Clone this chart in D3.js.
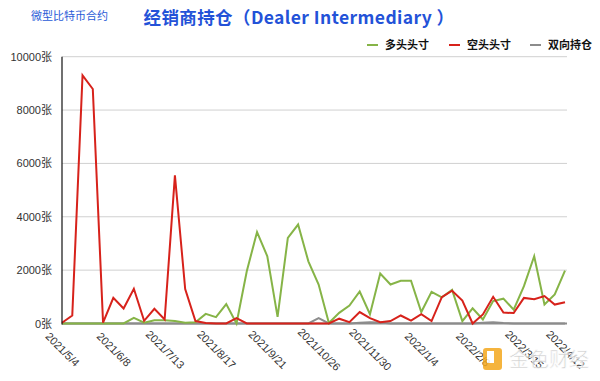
<!DOCTYPE html>
<html><head><meta charset="utf-8">
<script src="https://cdn.jsdelivr.net/npm/d3@7"></script>
<style>
html,body{margin:0;padding:0;background:#fff;}
svg{display:block;font-family:"Liberation Sans","Noto Sans CJK SC",sans-serif;}
</style></head>
<body><svg id="c" width="600" height="381"></svg>
<script>
const dates = ["2021/5/4","2021/5/11","2021/5/18","2021/5/25","2021/6/1","2021/6/8","2021/6/15","2021/6/22","2021/6/29","2021/7/6",
"2021/7/13","2021/7/20","2021/7/27","2021/8/3","2021/8/10","2021/8/17","2021/8/24","2021/8/31","2021/9/7","2021/9/14",
"2021/9/21","2021/9/28","2021/10/5","2021/10/12","2021/10/19","2021/10/26","2021/11/2","2021/11/9","2021/11/16","2021/11/23",
"2021/11/30","2021/12/7","2021/12/14","2021/12/21","2021/12/28","2022/1/4","2022/1/11","2022/1/18","2022/1/25","2022/2/1",
"2022/2/8","2022/2/15","2022/2/22","2022/3/1","2022/3/8","2022/3/15","2022/3/22","2022/3/29","2022/4/5","2022/4/12"];
const longPos = [0,0,0,0,0,0,0,210,30,125,125,90,30,50,360,240,730,0,1960,3430,2520,250,3210,3710,2330,1460,20,400,670,1200,350,1870,1460,1600,1600,430,1190,980,1260,90,570,150,840,930,520,1400,2520,710,1090,1980];
const shortPos = [30,300,9300,8790,30,960,560,1300,100,550,150,5550,1290,90,20,0,0,200,0,0,0,0,0,0,0,0,0,180,50,430,200,50,90,300,110,350,90,990,1230,860,0,340,1000,410,390,960,910,1030,710,800];
const spreadPos = [0,0,0,0,0,0,0,0,0,0,0,0,0,0,0,0,0,0,0,0,0,0,0,0,0,200,0,0,0,30,50,40,0,0,0,0,0,0,0,0,0,30,50,20,0,0,0,0,0,0];
const tickLabels = ["2021/5/4","2021/6/8","2021/7/13","2021/8/17","2021/9/21","2021/10/26","2021/11/30","2022/1/4","2022/2/8","2022/3/15","2022/4/12"];
const yTicks = [0,2000,4000,6000,8000,10000];
const seriesNames = ["多头头寸","空头头寸","双向持仓"];
const colors = ["#86b447","#d7221b","#8c8c8c"];

const svg = d3.select("#c");
const x = d3.scalePoint().domain(dates).range([62,565]);
const y = d3.scaleLinear().domain([0,10000]).range([323.5,56.7]);

// gridlines
svg.append("g").selectAll("line").data(yTicks.filter(d=>d>0)).join("line")
  .attr("x1",62).attr("x2",567).attr("y1",d=>y(d)).attr("y2",d=>y(d))
  .attr("stroke","#d0d0d0").attr("stroke-width",1);

// y axis labels
const yAxis = d3.axisLeft(y).tickValues(yTicks).tickFormat(d=>d+"张").tickSize(0).tickPadding(10);
const gy = svg.append("g").attr("transform","translate(62,0)").call(yAxis);
gy.select(".domain").remove();
gy.selectAll("text").attr("font-size",11).attr("fill","#333")
  .attr("font-family","'Liberation Sans','Noto Sans CJK SC',sans-serif");

// x axis baseline
svg.append("line").attr("x1",62).attr("x2",567).attr("y1",y(0)).attr("y2",y(0))
  .attr("stroke","#8c8c8c").attr("stroke-width",2);

// x labels
const xAxis = d3.axisBottom(x).tickValues(tickLabels).tickSize(0);
const gx = svg.append("g").attr("transform","translate(0,"+y(0)+")").call(xAxis);
gx.select(".domain").remove();
gx.selectAll("text")
  .attr("font-size",11).attr("fill","#333")
  .attr("font-family","'Liberation Sans',sans-serif")
  .attr("text-anchor","middle").attr("dy","0.35em").attr("y",0)
  .attr("transform","translate(0,26) rotate(45)");

// lines (draw grey first, then green, then red)
const line = d3.line().x((d,i)=>x(dates[i])).y(d=>y(d));
const allSeries = [longPos, shortPos, spreadPos];
[2,0,1].forEach(k=>{
  svg.append("path").datum(allSeries[k]).attr("d",line)
    .attr("fill","none").attr("stroke",colors[k]).attr("stroke-width",2)
    .attr("stroke-linejoin","miter");
});

// y axis line
svg.append("line").attr("x1",62).attr("x2",62).attr("y1",56.7).attr("y2",y(0)+1)
  .attr("stroke","#111").attr("stroke-width",1.2);

// titles
svg.append("text").attr("x",31).attr("y",20).text("微型比特币合约")
  .attr("font-size",11).attr("fill","#2a5bd7").attr("font-family","'Noto Sans CJK SC',sans-serif");
svg.append("text").attr("x",299).attr("y",24).attr("text-anchor","middle")
  .text("经销商持仓（Dealer Intermediary ）")
  .attr("font-size",17.5).attr("font-weight","bold").attr("fill","#2352d8")
  .attr("letter-spacing",0.4)
  .attr("font-family","'Noto Sans CJK SC',sans-serif");

// legend
const legX = [367,449,530];
const lg = svg.append("g").selectAll("g").data(seriesNames).join("g")
  .attr("transform",(d,i)=>"translate("+legX[i]+",45)");
lg.append("line").attr("x1",0).attr("x2",11).attr("stroke",(d,i)=>colors[i]).attr("stroke-width",2);
lg.append("text").attr("x",18).attr("dy","0.35em").text(d=>d)
  .attr("font-size",11).attr("font-weight","bold").attr("fill","#111")
  .attr("font-family","'Noto Sans CJK SC',sans-serif");

// watermark
const wm = svg.append("g").attr("opacity",0.85);
wm.append("rect").attr("x",483).attr("y",348).attr("width",19).attr("height",22).attr("rx",3).attr("fill","#f4a81d");
wm.append("rect").attr("x",487).attr("y",351).attr("width",7).attr("height",12).attr("fill","#fff");
wm.append("text").attr("x",509).attr("y",367).text("金色财经")
  .attr("font-size",20).attr("fill","#c8c8c8").attr("stroke","#fff").attr("stroke-width",0.6)
  .attr("font-family","'Noto Sans CJK SC',sans-serif");
</script></body></html>
